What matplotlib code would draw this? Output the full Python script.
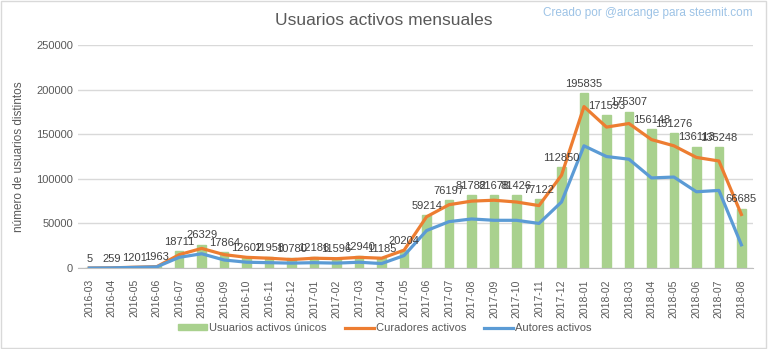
import matplotlib
matplotlib.use('Agg')
import matplotlib.pyplot as plt
import numpy as np

# data
meses = ['2016-03', '2016-04', '2016-05', '2016-06', '2016-07', '2016-08', '2016-09', '2016-10',
         '2016-11', '2016-12', '2017-01', '2017-02', '2017-03', '2017-04', '2017-05', '2017-06',
         '2017-07', '2017-08', '2017-09', '2017-10', '2017-11', '2017-12', '2018-01', '2018-02',
         '2018-03', '2018-04', '2018-05', '2018-06', '2018-07', '2018-08']
usuarios = [5, 259, 1201, 1963, 18711, 26329, 17864, 12602, 11958, 10780, 12186, 11596, 12940,
            11185, 20204, 59214, 76197, 81782, 81678, 81426, 77122, 112850, 195835, 171593,
            175307, 156148, 151276, 136113, 135248, 66685]
curadores = [0, 200, 900, 1500, 15000, 22000, 15000, 12000, 11000, 9500, 11000, 10500, 12000,
             11000, 20000, 57500, 71000, 75000, 76000, 74000, 70000, 104000, 181000, 158000,
             162000, 144000, 137000, 124000, 120000, 60000]
autores = [0, 150, 700, 1300, 12000, 16000, 9000, 6500, 6000, 5500, 6000, 5500, 6500,
           5000, 14000, 42000, 52000, 55000, 53500, 53500, 50000, 74000, 137000, 125000,
           122000, 101000, 102000, 85500, 87000, 26000]

plt.rcParams['font.family'] = ['Liberation Sans Narrow', 'Liberation Sans', 'DejaVu Sans']

fig = plt.figure(figsize=(7.68, 3.49), dpi=100)
ax = fig.add_axes([0.1016, 0.232, 0.8784, 0.639])

x = np.arange(len(meses))
b = ax.bar(x, usuarios, width=0.38, color='#A9D18E', edgecolor='#A9D18E', zorder=2,
           label='Usuarios activos únicos')
l1, = ax.plot(x, curadores, color='#ED7D31', linewidth=2.3, zorder=3, label='Curadores activos')
l2, = ax.plot(x, autores, color='#5B9BD5', linewidth=2.3, zorder=3, label='Autores activos')

for xi, v in zip(x, usuarios):
    ax.annotate(str(v), (xi, v), xytext=(0, 3), textcoords='offset points',
                ha='center', va='bottom', fontsize=8, color='#404040', zorder=4)

ax.set_xlim(-0.5, len(meses) - 0.5)
ax.set_ylim(0, 250000)
ax.set_yticks(range(0, 250001, 50000))
ax.yaxis.grid(True, color='#D9D9D9', linewidth=1, zorder=0)
ax.set_axisbelow(True)
for s in ['top', 'right', 'left']:
    ax.spines[s].set_visible(False)
ax.spines['bottom'].set_color('#BFBFBF')
ax.set_xticks(x)
ax.set_xticklabels(meses, rotation=90, fontsize=7.5, color='#595959')
ax.tick_params(axis='y', labelsize=8, labelcolor='#595959', length=0)
ax.tick_params(axis='x', length=0, pad=8)
ax.set_ylabel('número de usuarios distintos', fontsize=8.5, color='#595959', labelpad=8)

fig.text(0.5, 0.94, 'Usuarios activos mensuales', ha='center', va='center',
         fontsize=12.5, color='#595959')
fig.text(0.98, 0.962, 'Creado por @arcange para steemit.com', ha='right', va='center',
         fontsize=8.5, color='#9DC3E6')

ax.legend([b, l1, l2], [b.get_label(), l1.get_label(), l2.get_label()],
          loc='center', bbox_to_anchor=(0.455, -0.27), ncol=3, frameon=False, fontsize=8,
          labelcolor='#595959', handlelength=2.6, handleheight=0.5, columnspacing=1.6,
          handletextpad=0.2)

fig.patches.append(plt.Rectangle((0.001, 0.003), 0.997, 0.994, transform=fig.transFigure,
                                 fill=False, edgecolor='#D9D9D9', linewidth=1))

fig.savefig('out.png', dpi=100)
